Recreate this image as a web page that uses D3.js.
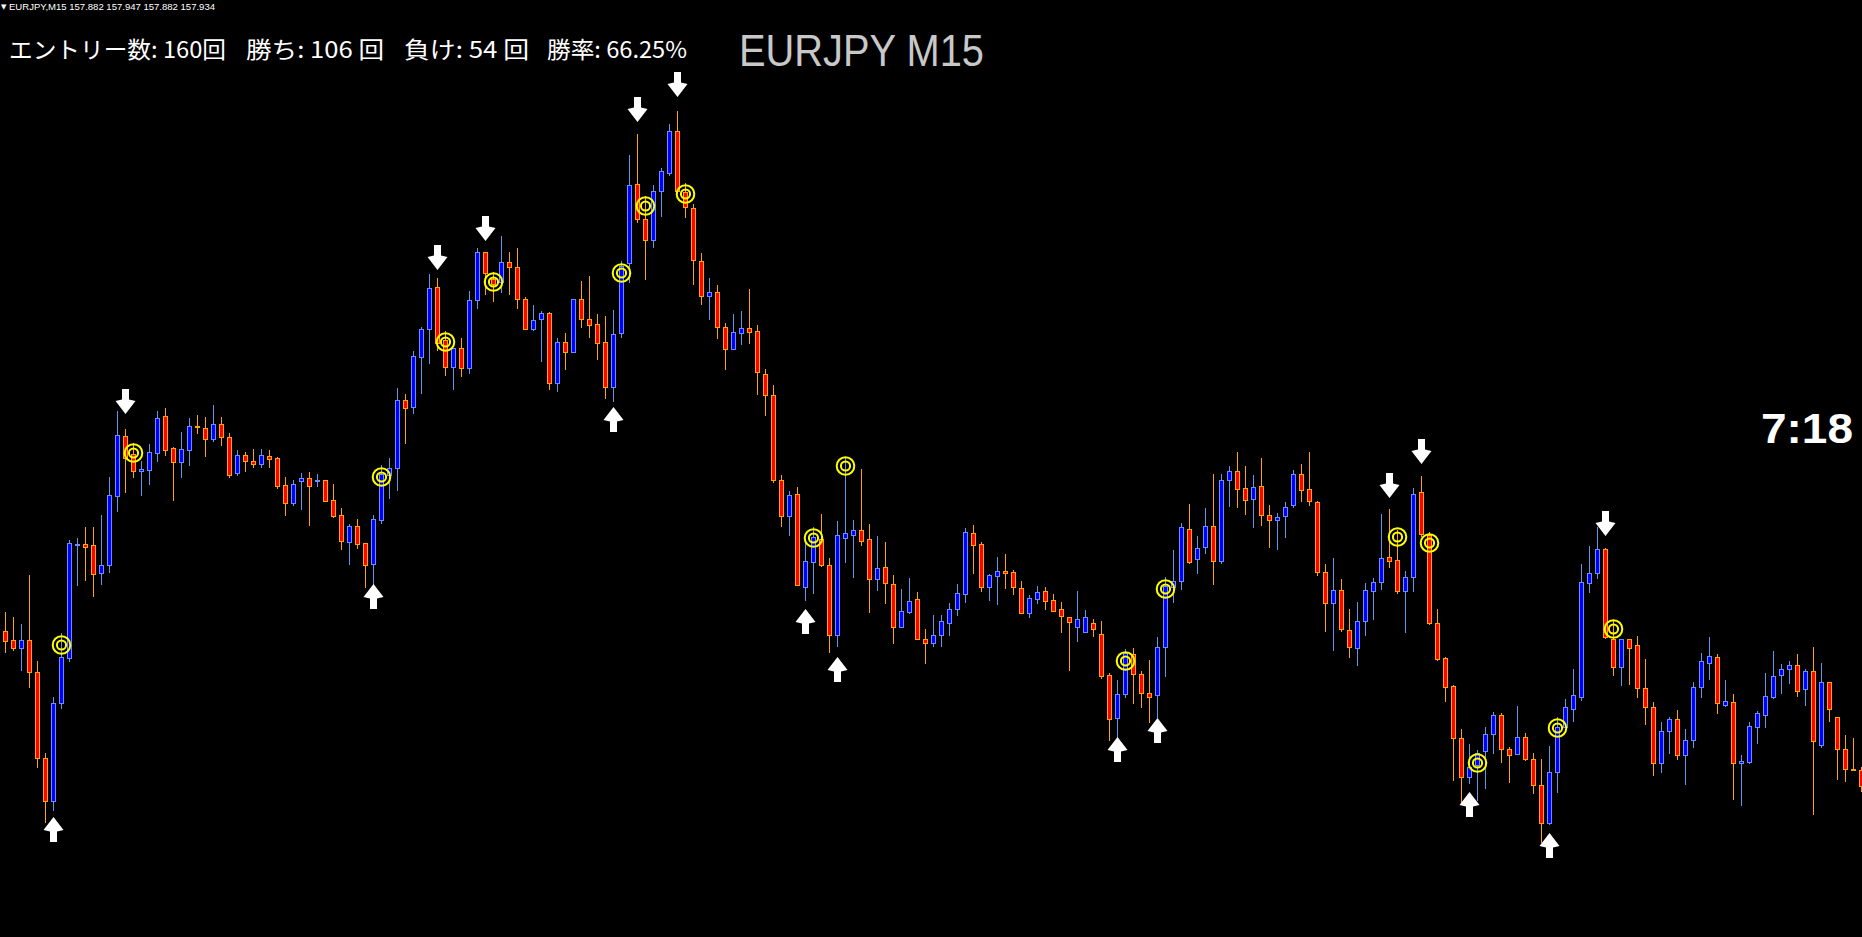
<!DOCTYPE html>
<html><head><meta charset="utf-8">
<script src="https://cdn.jsdelivr.net/npm/d3@7"></script>
<style>html,body{margin:0;padding:0;background:#000;overflow:hidden}</style>
</head><body><svg id="c" width="1862" height="937"></svg>
<script>
// ---------- data ----------
const symbol = "EURJPY";
const timeframe = "M15";
const headerQuote = ["157.882", "157.947", "157.882", "157.934"];
const entries = 160, wins = 106, losses = 54, winRate = "66.25";
const timerText = "7:18";

const open = [
157.369,157.360,157.352,157.360,157.328,157.242,157.199,157.297,157.342,157.455,
157.456,157.455,157.427,157.435,157.504,157.564,157.546,157.529,157.530,157.547,
157.584,157.552,157.538,157.550,157.574,157.572,157.561,157.576,157.563,157.527,
157.545,157.539,157.536,157.544,157.542,157.515,157.497,157.519,157.522,157.519,
157.520,157.500,157.485,157.458,157.474,157.457,157.436,157.480,157.525,157.532,
157.600,157.593,157.643,157.671,157.713,157.660,157.633,157.652,157.632,157.700,
157.748,157.721,157.718,157.738,157.733,157.701,157.671,157.681,157.687,157.617,
157.658,157.648,157.701,157.681,157.676,157.658,157.613,157.667,157.737,157.816,
157.781,157.760,157.809,157.827,157.869,157.808,157.792,157.739,157.704,157.708,
157.673,157.651,157.667,157.672,157.669,157.626,157.605,157.520,157.484,157.506,
157.413,157.438,157.461,157.435,157.365,157.462,157.465,157.470,157.461,157.421,
157.433,157.416,157.373,157.388,157.401,157.361,157.357,157.365,157.377,157.391,
157.406,157.467,157.456,157.413,157.424,157.429,157.428,157.412,157.387,157.401,
157.409,157.400,157.391,157.383,157.373,157.368,157.377,157.366,157.325,157.282,
157.306,157.346,157.326,157.307,157.305,157.353,157.413,157.419,157.471,157.441,
157.453,157.474,157.439,157.520,157.529,157.512,157.501,157.514,157.485,157.480,
157.484,157.495,157.526,157.511,157.498,157.428,157.397,157.410,157.370,157.352,
157.379,157.409,157.418,157.443,157.440,157.409,157.423,157.508,157.465,157.377,
157.342,157.314,157.262,157.223,157.235,157.249,157.266,157.285,157.251,157.246,
157.263,157.241,157.215,157.177,157.228,157.273,157.291,157.303,157.417,157.427,
157.451,157.361,157.333,157.361,157.355,157.312,157.293,157.237,157.269,157.281,
157.245,157.260,157.313,157.337,157.343,157.295,157.298,157.237,157.238,157.273,
157.285,157.303,157.325,157.331,157.335,157.311,157.329,157.255,157.318,157.283,
157.251,157.231,157.230];

const high = [
157.388,157.383,157.376,157.425,157.339,157.247,157.303,157.367,157.460,157.462,
157.473,157.473,157.485,157.523,157.589,157.571,157.557,157.539,157.556,157.589,
157.592,157.553,157.568,157.582,157.585,157.583,157.595,157.583,157.567,157.550,
157.548,157.551,157.551,157.550,157.543,157.523,157.520,157.527,157.528,157.526,
157.520,157.516,157.492,157.476,157.481,157.457,157.485,157.535,157.542,157.612,
157.606,157.649,157.673,157.726,157.722,157.669,157.652,157.662,157.709,157.752,
157.748,157.728,157.764,157.748,157.752,157.703,157.695,157.689,157.688,157.662,
157.667,157.701,157.719,157.724,157.686,157.684,157.690,157.739,157.845,157.866,
157.804,157.815,157.832,157.876,157.889,157.817,157.796,157.747,157.722,157.715,
157.677,157.686,157.689,157.711,157.675,157.631,157.615,157.525,157.509,157.513,
157.461,157.473,157.486,157.442,157.479,157.543,157.480,157.531,157.476,157.464,
157.458,157.425,157.411,157.422,157.408,157.371,157.385,157.385,157.397,157.416,
157.472,157.475,157.458,157.426,157.443,157.446,157.430,157.419,157.405,157.414,
157.413,157.406,157.398,157.383,157.409,157.390,157.381,157.379,157.327,157.320,
157.351,157.352,157.329,157.340,157.363,157.423,157.450,157.477,157.496,157.464,
157.492,157.526,157.526,157.534,157.548,157.534,157.525,157.542,157.495,157.487,
157.498,157.530,157.536,157.548,157.499,157.436,157.442,157.421,157.391,157.398,
157.417,157.422,157.486,157.491,157.470,157.429,157.512,157.524,157.468,157.391,
157.343,157.315,157.271,157.256,157.250,157.273,157.288,157.287,157.253,157.294,
157.267,157.247,157.241,157.254,157.283,157.301,157.331,157.436,157.454,157.473,
157.452,157.380,157.361,157.361,157.364,157.341,157.298,157.278,157.283,157.290,
157.271,157.318,157.347,157.363,157.346,157.320,157.306,157.245,157.278,157.289,
157.327,157.349,157.336,157.339,157.346,157.331,157.353,157.337,157.318,157.283,
157.265,157.262,157.233];

const low = [
157.348,157.350,157.330,157.313,157.233,157.178,157.190,157.292,157.339,157.415,
157.420,157.404,157.416,157.428,157.489,157.508,157.523,157.505,157.516,157.539,
157.545,157.500,157.523,157.535,157.567,157.544,157.559,157.555,157.523,157.525,
157.529,157.533,157.533,157.533,157.512,157.485,157.495,157.491,157.475,157.514,
157.499,157.483,157.451,157.436,157.452,157.413,157.416,157.477,157.502,157.510,
157.557,157.587,157.607,157.637,157.650,157.625,157.611,157.624,157.627,157.692,
157.706,157.699,157.708,157.706,157.692,157.671,157.670,157.639,157.611,157.609,
157.631,157.648,157.673,157.663,157.641,157.602,157.599,157.663,157.718,157.778,
157.721,157.753,157.784,157.825,157.807,157.783,157.716,157.696,157.681,157.662,
157.631,157.651,157.656,157.657,157.606,157.585,157.518,157.474,157.465,157.415,
157.400,157.407,157.434,157.348,157.354,157.438,157.423,157.455,157.388,157.410,
157.397,157.357,157.373,157.387,157.361,157.337,157.354,157.354,157.365,157.385,
157.398,157.427,157.409,157.400,157.396,157.412,157.406,157.387,157.383,157.397,
157.391,157.389,157.368,157.330,157.359,157.368,157.364,157.322,157.260,157.263,
157.303,157.297,157.293,157.278,157.283,157.324,157.398,157.411,157.437,157.427,
157.447,157.416,157.437,157.494,157.493,157.486,157.473,157.475,157.453,157.451,
157.463,157.493,157.499,157.495,157.425,157.369,157.350,157.369,157.343,157.335,
157.365,157.381,157.411,157.433,157.407,157.368,157.409,157.464,157.376,157.340,
157.299,157.220,157.198,157.217,157.200,157.212,157.247,157.238,157.218,157.246,
157.240,157.207,157.158,157.176,157.208,157.273,157.279,157.300,157.408,157.422,
157.362,157.325,157.315,157.316,157.303,157.276,157.225,157.228,157.247,157.241,
157.216,157.253,157.303,157.321,157.287,157.294,157.201,157.195,157.237,157.257,
157.273,157.302,157.307,157.317,157.304,157.295,157.186,157.253,157.279,157.221,
157.219,157.230,157.209];

const close = [
157.359,157.352,157.360,157.328,157.242,157.199,157.297,157.343,157.457,157.456,
157.453,157.426,157.435,157.505,157.565,157.542,157.529,157.531,157.548,157.582,
157.550,157.538,157.551,157.574,157.573,157.561,157.576,157.563,157.525,157.545,
157.539,157.536,157.545,157.541,157.514,157.497,157.516,157.522,157.514,157.520,
157.499,157.484,157.459,157.474,157.456,157.435,157.481,157.526,157.532,157.600,
157.592,157.644,157.671,157.712,157.657,157.633,157.652,157.632,157.700,157.748,
157.727,157.716,157.738,157.733,157.701,157.671,157.680,157.687,157.617,157.658,
157.648,157.701,157.681,157.675,157.657,157.613,157.666,157.734,157.815,157.781,
157.760,157.809,157.829,157.869,157.809,157.793,157.740,157.704,157.708,157.673,
157.651,157.668,157.672,157.668,157.628,157.605,157.520,157.484,157.505,157.415,
157.439,157.463,157.435,157.365,157.465,157.467,157.470,157.459,157.421,157.432,
157.417,157.373,157.389,157.399,157.361,157.357,157.365,157.379,157.391,157.407,
157.468,157.455,157.413,157.425,157.429,157.427,157.413,157.387,157.402,157.408,
157.399,157.389,157.384,157.378,157.381,157.383,157.371,157.324,157.281,157.306,
157.347,157.326,157.307,157.303,157.353,157.414,157.419,157.473,157.438,157.452,
157.474,157.439,157.520,157.529,157.511,157.500,157.513,157.485,157.480,157.483,
157.493,157.526,157.510,157.499,157.428,157.397,157.410,157.371,157.353,157.379,
157.410,157.418,157.442,157.439,157.409,157.423,157.506,157.466,157.377,157.341,
157.313,157.262,157.223,157.233,157.247,157.266,157.285,157.251,157.245,157.263,
157.241,157.215,157.177,157.228,157.273,157.293,157.305,157.418,157.427,157.451,
157.363,157.333,157.361,157.352,157.312,157.293,157.237,157.269,157.281,157.245,
157.260,157.313,157.339,157.344,157.297,157.299,157.237,157.239,157.274,157.287,
157.304,157.324,157.331,157.335,157.309,157.329,157.259,157.318,157.291,157.251,
157.231,157.230,157.214];

// entry / result markers (bar index, price)
const targetIdx   = [7, 16, 47, 55, 61, 77, 80, 85, 101, 105, 140, 145, 174, 178, 184, 194, 201];
const targetPrice = [157.355,157.547,157.523,157.658,157.718,157.727,157.794,157.806,157.462,157.534,157.339,157.411,157.463,157.457,157.237,157.272,157.371];
const sellIdx   = [15, 54, 60, 79, 84, 173, 177, 200];
const sellPrice = [157.586,157.730,157.759,157.878,157.903,157.502,157.536,157.464];
const buyIdx    = [6, 46, 76, 100, 104, 139, 144, 183, 193];
const buyPrice  = [157.183,157.416,157.593,157.391,157.343,157.263,157.282,157.208,157.167];

// ---------- drawing ----------
const W = 1862, H = 937;
const svg = d3.select("#c");
svg.append("rect").attr("width", W).attr("height", H).attr("fill", "#000");

const n = open.length;
const x = d3.scaleLinear().domain([0, n - 1]).range([5.33, 1861.33]);
const y = d3.scaleLinear().domain([157, 158]).range([1000, 0]);
const cx = i => Math.round(x(i));
const isBull = i => close[i] > open[i];

const COL = {
  bullWick: "#6495ED", bullBody: "#0000FF", bullEdge: "#6A8DFF",
  bearWick: "#FFA500", bearBody: "#FF0000", bearEdge: "#FFA500"
};

const bars = svg.append("g").selectAll("g").data(d3.range(n)).join("g");
bars.append("line")
  .attr("x1", i => cx(i) + 0.5).attr("x2", i => cx(i) + 0.5)
  .attr("y1", i => Math.round(y(high[i])))
  .attr("y2", i => Math.round(y(low[i])) + 1)
  .attr("stroke", i => isBull(i) ? COL.bullWick : COL.bearWick)
  .attr("stroke-width", 1);
bars.append("rect")
  .attr("x", i => cx(i) - 1.5)
  .attr("y", i => Math.round(y(Math.max(open[i], close[i]))) + 0.5)
  .attr("width", 4)
  .attr("height", i => Math.max(0, Math.round(Math.abs(y(open[i]) - y(close[i])))))
  .attr("fill", i => isBull(i) ? COL.bullBody : COL.bearBody)
  .attr("stroke", i => isBull(i) ? COL.bullEdge : COL.bearEdge)
  .attr("stroke-width", 1);

// arrows (tip at the anchor point)
const downPath = "M0,0L10,-13L3.5,-14.5V-25H-3.5V-14.5L-10,-13Z";
const upPath = "M0,0L10,13L3.5,14.5V25H-3.5V14.5L-10,13Z";
svg.append("g").selectAll("path").data(d3.range(sellIdx.length)).join("path")
  .attr("d", downPath)
  .attr("transform", k => `translate(${cx(sellIdx[k]) + 0.5},${y(sellPrice[k])})`)
  .attr("fill", "#fff");
svg.append("g").selectAll("path").data(d3.range(buyIdx.length)).join("path")
  .attr("d", upPath)
  .attr("transform", k => `translate(${cx(buyIdx[k]) + 0.5},${y(buyPrice[k])})`)
  .attr("fill", "#fff");

// double circles
const tg = svg.append("g").selectAll("g").data(d3.range(targetIdx.length)).join("g")
  .attr("transform", k => `translate(${cx(targetIdx[k]) + 0.5},${y(targetPrice[k])})`);
[8.8, 4.6].forEach(r => tg.append("circle").attr("r", r)
  .attr("fill", "none").attr("stroke", "#FFFF00").attr("stroke-width", 2));

// ---------- texts ----------
svg.append("text").attr("x", 1).attr("y", 9).attr("font-size", 7)
  .attr("fill", "#fff").attr("font-family", "DejaVu Sans").text("▼");
svg.append("text").attr("x", 9).attr("y", 9.5)
  .attr("font-family", "Liberation Sans, Arial, sans-serif").attr("font-size", 9.5)
  .attr("fill", "#fff").attr("textLength", 206).attr("lengthAdjust", "spacingAndGlyphs")
  .text(`${symbol},${timeframe}  ${headerQuote.join(" ")}`);

const statsFont = "'Noto Sans CJK JP', sans-serif";
const stats = [
  {t: `エントリー数: ${entries}回`, x0: 9, x1: 226},
  {t: `勝ち: ${wins} 回`, x0: 246, x1: 384},
  {t: `負け: ${losses} 回`, x0: 404, x1: 529},
  {t: `勝率: ${winRate}%`, x0: 547, x1: 687}
];
svg.append("g").selectAll("text").data(stats).join("text")
  .attr("x", d => d.x0).attr("y", 58)
  .attr("font-family", statsFont).attr("font-size", 23).attr("fill", "#fff")
  .attr("textLength", d => d.x1 - d.x0).attr("lengthAdjust", "spacingAndGlyphs")
  .text(d => d.t);

svg.append("text").attr("x", 739).attr("y", 66)
  .attr("font-family", "Liberation Sans, Arial, sans-serif").attr("font-size", 44)
  .attr("fill", "#C8C8C8").attr("textLength", 245).attr("lengthAdjust", "spacingAndGlyphs")
  .text(`${symbol} ${timeframe}`);

svg.append("text").attr("x", 1761).attr("y", 443)
  .attr("font-family", "Liberation Sans, Arial, sans-serif").attr("font-size", 42)
  .attr("font-weight", "bold").attr("fill", "#fff")
  .attr("textLength", 92).attr("lengthAdjust", "spacingAndGlyphs")
  .text(timerText);
</script></body></html>
